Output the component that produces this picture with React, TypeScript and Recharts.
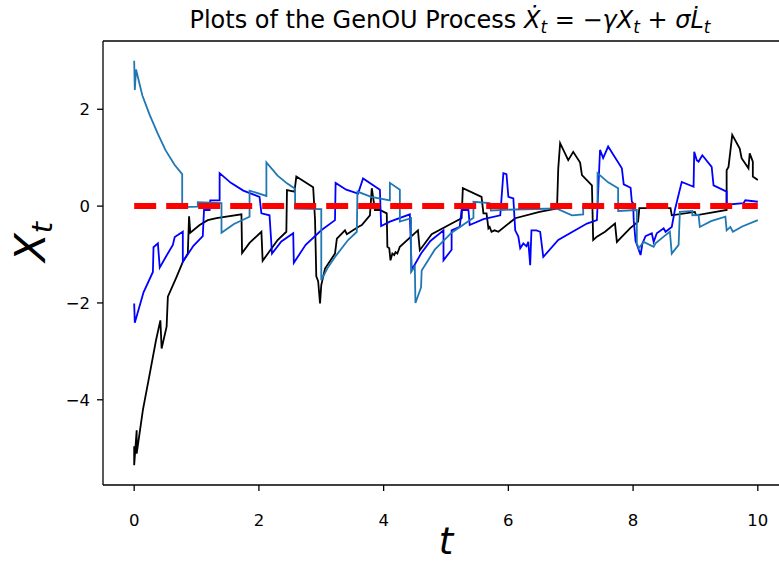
import { LineChart, Line, XAxis, YAxis, ReferenceLine } from 'recharts';

const COLORS = {
  black: '#000000',
  blue: '#0000ff',
  lightBlue: '#1f77b4',
  mean: '#ff0000',
};

// black path
const tBlack = [
  0, 0, 0.04, 0.04, 0.14, 0.25, 0.35, 0.42, 0.44, 0.52, 0.54, 0.68, 0.78, 0.86, 0.88, 0.9,
  1.05, 1.18, 1.32, 1.72, 1.73, 1.85, 2.04, 2.06, 2.3, 2.44, 2.45, 2.57, 2.6, 2.87, 2.9,
  2.92, 2.95, 2.98, 3.0, 3.06, 3.22, 3.25, 3.38, 3.41, 3.59, 3.65, 3.78, 3.81, 3.83, 3.86,
  3.94, 4.05, 4.06, 4.09, 4.11, 4.14, 4.17, 4.19, 4.22, 4.26, 4.55, 4.58, 4.77, 5.09, 5.25,
  5.27, 5.57, 5.6, 5.65, 5.68, 5.7, 5.73, 5.78, 5.84, 6.11, 6.5, 6.78, 6.8, 6.83, 6.96,
  7.04, 7.15, 7.18, 7.34, 7.36, 7.42, 7.55, 7.71, 7.74, 7.95, 8.08, 8.1, 8.6, 8.62, 8.99,
  9.01, 9.5, 9.5, 9.53, 9.59, 9.71, 9.74, 9.85, 9.87, 9.92, 9.92, 10.0,
];
const xBlack = [
  -4.96, -5.35, -4.63, -5.11, -4.21, -3.46, -2.77, -2.36, -2.94, -2.49, -1.87, -1.46, -1.15,
  -0.98, -0.21, -0.55, -0.39, -0.29, -0.25, -0.17, -0.97, -0.76, -0.53, -1.13, -0.7, -0.53,
  0.33, 0.3, 0.61, 0.39, -0.28, -1.45, -1.55, -2.01, -1.63, -1.29, -0.98, -0.67, -0.5,
  -0.58, -0.43, -0.39, -0.19, 0.37, 0.19, -0.08, -0.08, -0.15, -0.84, -0.87, -1.12, -0.98,
  -1.01, -0.95, -0.98, -0.84, -0.5, -0.91, -0.58, -0.36, -0.25, 0.37, 0.19, -0.15, -0.15,
  -0.46, -0.43, -0.53, -0.5, -0.53, -0.25, -0.12, -0.05, 0.78, 1.3, 0.95, 1.12, 0.9, 0.64,
  0.43, -0.7, -0.63, -0.53, -0.36, -0.74, -0.46, -0.32, -0.04, -0.04, -0.19, -0.12, -0.19,
  -0.08, 0.74, 0.81, 1.47, 1.19, 0.99, 0.78, 1.09, 0.92, 0.61, 0.54,
];

// blue path
const tBlue = [
  0, 0.01, 0.15, 0.3, 0.31, 0.38, 0.41, 0.52, 0.62, 0.65, 0.78, 0.78, 0.95, 1.1, 1.12, 1.21,
  1.22, 1.37, 1.37, 1.55, 1.75, 2.01, 2.04, 2.17, 2.21, 2.36, 2.55, 2.56, 2.75, 3.0, 3.22,
  3.23, 3.4, 3.59, 3.67, 3.94, 3.96, 4.1, 4.42, 4.45, 4.6, 4.75, 4.96, 4.96, 5.09, 5.09, 5.22,
  5.25, 5.36, 5.38, 5.6, 5.87, 5.92, 5.97, 6.0, 6.08, 6.11, 6.16, 6.19, 6.24, 6.29, 6.32,
  6.35, 6.37, 6.45, 6.51, 6.56, 6.8, 7.26, 7.42, 7.47, 7.52, 7.6, 7.82, 7.85, 7.96, 7.98,
  8.0, 8.01, 8.04, 8.12, 8.15, 8.2, 8.3, 8.33, 8.38, 8.49, 8.52, 8.62, 8.67, 8.78, 8.97,
  8.98, 9.02, 9.05, 9.11, 9.26, 9.29, 9.5, 9.5, 9.77, 9.8, 10.0,
];
const xBlue = [
  -2.01, -2.41, -1.78, -1.36, -0.85, -0.77, -1.27, -1.02, -0.8, -0.64, -0.53, -1.15, -0.82,
  -0.62, -0.08, -0.08, 0.12, 0.12, 0.68, 0.48, 0.32, 0.19, -0.15, -0.19, -0.98, -0.73, -0.56,
  -1.17, -0.8, -0.5, -0.29, 0.48, 0.34, 0.26, 0.57, 0.34, -0.41, -0.32, -0.17, -1.32, -0.98,
  -0.72, -0.5, -1.12, -0.9, -0.5, -0.43, -0.08, -0.08, -0.39, -0.27, -0.19, 0.68, 0.66, 0.19,
  0.16, -0.5, -0.63, -0.87, -0.77, -0.83, -0.74, -1.22, -0.5, -0.5, -0.53, -1.05, -0.7,
  -0.36, -0.29, 1.16, 0.99, 1.23, 0.78, 0.45, 0.38, 0.09, 0.06, -0.29, -0.72, -1.01, -0.77,
  -0.62, -0.56, -0.74, -0.56, -0.46, -0.53, -0.43, -0.08, 0.5, 0.4, 1.12, 0.95, 0.92, 1.05,
  0.81, 0.43, 0.3, 0.03, 0.06, 0.12, 0.09,
];

// light blue path
const tLight = [
  0, 0.01, 0.03, 0.13, 0.25, 0.38, 0.5, 0.65, 0.77, 0.77, 1.02, 1.02, 1.4, 1.4, 1.6, 1.85,
  1.85, 2.12, 2.12, 2.3, 2.45, 2.58, 2.58, 3.0, 3.0, 3.1, 3.22, 3.43, 3.57, 3.58, 3.8, 4.1,
  4.1, 4.26, 4.26, 4.44, 4.44, 4.5, 4.51, 4.6, 4.61, 4.82, 5.09, 5.44, 5.44, 5.7, 5.72, 6.1,
  6.77, 7.02, 7.2, 7.2, 7.43, 7.43, 7.6, 7.76, 7.76, 8.06, 8.06, 8.09, 8.17, 8.33, 8.36, 8.49,
  8.59, 8.62, 8.73, 8.75, 8.95, 8.95, 9.05, 9.07, 9.25, 9.48, 9.5, 9.56, 9.6, 9.75, 10.0,
];
const xLight = [
  3.0, 2.4, 2.82, 2.29, 1.88, 1.49, 1.16, 0.85, 0.66, -0.02, -0.01, 0.08, 0.06, -0.55, -0.37,
  -0.22, 0.32, 0.21, 0.9, 0.63, 0.47, 0.36, -0.05, -0.06, -1.53, -1.28, -1.05, -0.7, -0.53,
  0.3, 0.19, 0.12, 0.48, 0.34, -0.32, -0.25, -1.36, -1.25, -2.0, -1.68, -1.33, -0.9, -0.55,
  -0.24, 0.09, 0.06, -0.09, -0.07, -0.05, -0.19, -0.17, -0.02, -0.01, 0.68, 0.49, 0.37,
  -0.1, -0.08, -0.77, -0.87, -0.74, -0.84, -0.77, -0.63, -0.53, -0.98, -0.8, -0.12, -0.1,
  -0.19, -0.18, -0.43, -0.31, -0.22, -0.5, -0.43, -0.53, -0.42, -0.29,
];

// long-run mean of the process
const tMean = [0, 10];
const xMean = [0, 0];

const xTicks = [0, 2, 4, 6, 8, 10];
const yTicks = [-4, -2, 0, 2];

const toPoints = (ts: number[], xs: number[]) => ts.map((t, i) => ({ t, x: xs[i] }));

const FONT = 'DejaVu Sans';

export default function App() {
  return (
    <div style={{ position: 'absolute', left: 0, top: 0, width: 779, height: 562, overflow: 'hidden', background: '#fff' }}>
      <LineChart width={790} height={562} margin={{ top: 41, right: 1, bottom: 0, left: 0 }}>
        <XAxis
          dataKey='t'
          type='number'
          domain={[-0.5, 10.5]}
          ticks={xTicks}
          allowDataOverflow
          height={77}
          tickSize={6}
          axisLine={{ stroke: COLORS.black, strokeWidth: 1.3 }}
          tickLine={{ stroke: COLORS.black, strokeWidth: 1.3 }}
          tick={({ x, payload }: any) => (
            <text x={x} y={526} textAnchor='middle' fontFamily={FONT} fontSize={16.5} fill='#000'>
              {payload.value}
            </text>
          )}
        />
        <YAxis
          type='number'
          domain={[-5.76, 3.41]}
          ticks={yTicks}
          allowDataOverflow
          width={103}
          tickSize={6}
          axisLine={{ stroke: COLORS.black, strokeWidth: 1.3 }}
          tickLine={{ stroke: COLORS.black, strokeWidth: 1.3 }}
          tick={({ y, payload }: any) => (
            <text x={90} y={y} dy='0.36em' textAnchor='end' fontFamily={FONT} fontSize={16.5} fill='#000'>
              {String(payload.value).replace('-', '\u2212')}
            </text>
          )}
        />
        <ReferenceLine y={3.41} stroke={COLORS.black} strokeWidth={1.3} />
        <Line data={toPoints(tBlack, xBlack)} dataKey='x' stroke={COLORS.black} strokeWidth={1.8} dot={false} isAnimationActive={false} />
        <Line data={toPoints(tBlue, xBlue)} dataKey='x' stroke={COLORS.blue} strokeWidth={1.8} dot={false} isAnimationActive={false} />
        <Line data={toPoints(tLight, xLight)} dataKey='x' stroke={COLORS.lightBlue} strokeWidth={1.8} dot={false} isAnimationActive={false} />
        <Line
          data={toPoints(tMean, xMean)}
          dataKey='x'
          stroke={COLORS.mean}
          strokeWidth={6}
          strokeDasharray='22 10'
          strokeLinecap='butt'
          dot={false}
          isAnimationActive={false}
        />
      </LineChart>
      <svg width={779} height={562} style={{ position: 'absolute', left: 0, top: 0, pointerEvents: 'none' }}>
        <text x={450} y={28} textAnchor='middle' fontFamily={FONT} fontSize={24} fill='#000'>
          Plots of the GenOU Process{' '}
          <tspan fontStyle='italic'>{'\u1E8A'}</tspan>
          <tspan fontStyle='italic' fontSize={17} dy={5}>t</tspan>
          <tspan dy={-5}>{' = \u2212'}</tspan>
          <tspan fontStyle='italic'>{'\u03B3X'}</tspan>
          <tspan fontStyle='italic' fontSize={17} dy={5}>t</tspan>
          <tspan dy={-5}>{' + '}</tspan>
          <tspan fontStyle='italic'>{'\u03C3L\u0307'}</tspan>
          <tspan fontStyle='italic' fontSize={17} dy={5}>t</tspan>
        </text>
        <text x={446} y={554} textAnchor='middle' fontFamily={FONT} fontSize={37} fontStyle='italic' fill='#000'>
          t
        </text>
        <text transform='translate(45,242) rotate(-90)' textAnchor='middle' fontFamily={FONT} fontSize={42} fontStyle='italic' fill='#000'>
          X<tspan fontSize={29} dy={7}>t</tspan>
        </text>
      </svg>
    </div>
  );
}
